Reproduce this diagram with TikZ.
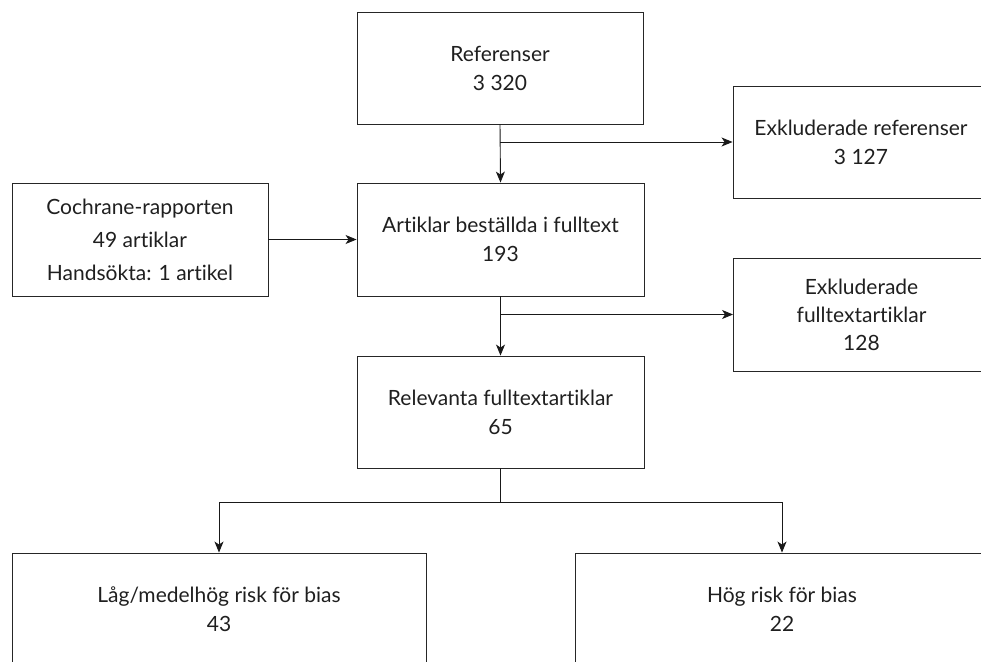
\documentclass[tikz,border=0pt]{standalone}
\usepackage{fontspec}
\setmainfont{Lato}[Ligatures={NoCommon,NoRare}]
\usetikzlibrary{arrows.meta}
\begin{document}
\begin{tikzpicture}[x=1pt,y=-1pt,
  box/.style={draw=black!85, line width=0.9pt, rectangle, align=center,
    font=\fontsize{21}{29}\selectfont, text=black!88, inner sep=0pt},
  conn/.style={draw=black!90, line width=0.9pt},
  arr/.style={conn, -{Stealth[length=11pt,width=9pt,inset=3pt]}}]
\useasboundingbox (0,0) rectangle (981,661);
\clip (0,0) rectangle (981,661);
\node[box, minimum width=286, minimum height=112] (ref) at (500,68) {Referenser\\3 320};
\node[box, minimum width=256, minimum height=112] (exref) at (861,142) {Exkluderade referenser\\3 127};
\node[box, minimum width=256, minimum height=113, font=\fontsize{21}{33}\selectfont] (coch) at (140,239.5) {Cochrane-rapporten\\49 artiklar\\Handsökta: 1 artikel};
\node[box, minimum width=287, minimum height=113] (art) at (500.5,239.5) {Artiklar beställda i fulltext\\193};
\node[box, minimum width=256, minimum height=113, font=\fontsize{21}{28}\selectfont] (exft) at (861.5,314.5) {Exkluderade\\fulltextartiklar\\128};
\node[box, minimum width=287, minimum height=112] (rel) at (500.5,412) {Relevanta fulltextartiklar\\65};
\node[box, minimum width=414, minimum height=112] (low) at (219,609) {Låg/medelhög risk för bias\\43};
\node[box, minimum width=414, minimum height=112] (high) at (782,609) {Hög risk för bias\\22};
\coordinate (b1) at (ref.south |- exref.west);
\coordinate (b2) at (art.south |- exft.west);
\coordinate (b3) at (500.5,502);
\draw[arr] (ref.south) -- (art.north);
\draw[arr] (b1) -- (exref.west);
\draw[arr] (coch.east) -- (art.west);
\draw[arr] (art.south) -- (rel.north);
\draw[arr] (b2) -- (exft.west);
\draw[conn] (rel.south) -- (b3);
\draw[arr] (b3) -| (low.north);
\draw[arr] (b3) -| (high.north);
\end{tikzpicture}
\end{document}
